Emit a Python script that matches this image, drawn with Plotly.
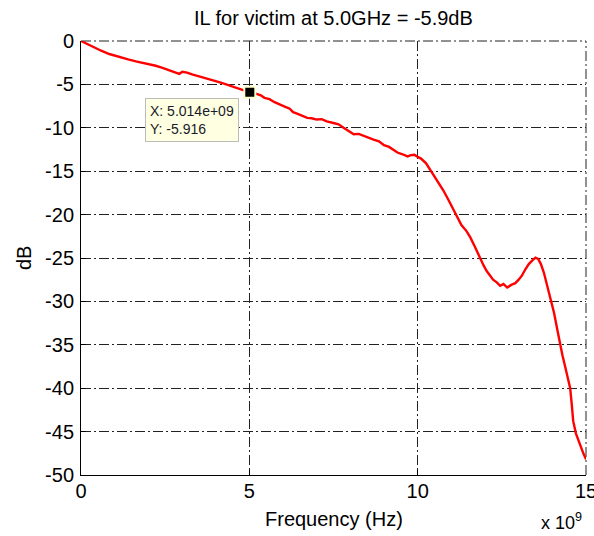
import plotly.graph_objects as go

# Frequency in GHz (axis shows x 10^9 Hz) and insertion loss in dB
freq_ghz = [0.00, 0.20, 0.40, 0.60, 0.84, 1.00, 1.20, 1.40, 1.63, 1.80, 2.00, 2.22, 2.40, 2.60,
            2.82, 2.92, 3.01, 3.15, 3.30, 3.55, 3.80, 4.00, 4.20, 4.45, 4.69, 4.85, 5.014, 5.15,
            5.34, 5.45, 5.60, 5.75, 5.93, 6.05, 6.20, 6.30, 6.40, 6.55, 6.72, 6.85, 7.00, 7.15,
            7.30, 7.50, 7.65, 7.80, 7.95, 8.10, 8.25, 8.40, 8.55, 8.69, 8.85, 9.00, 9.15, 9.28,
            9.40, 9.55, 9.70, 9.80, 9.90, 10.00, 10.10, 10.25, 10.38, 10.50, 10.62, 10.76, 10.90,
            11.05, 11.18, 11.30, 11.45, 11.56, 11.70, 11.86, 11.95, 12.05, 12.15, 12.24, 12.35,
            12.45, 12.55, 12.66, 12.78, 12.90, 13.00, 13.10, 13.20, 13.30, 13.40, 13.50, 13.58,
            13.66, 13.75, 13.85, 13.95, 14.05, 14.15, 14.23, 14.30, 14.38, 14.46, 14.53, 14.58,
            14.62, 14.70, 14.77, 14.85, 14.92, 15.00]
il_db = [0.00, -0.40, -0.78, -1.12, -1.50, -1.70, -1.95, -2.12, -2.35, -2.48, -2.62, -2.85, -3.08,
         -3.35, -3.70, -3.78, -3.55, -3.65, -3.85, -4.10, -4.40, -4.62, -4.85, -5.18, -5.50, -5.70,
         -5.916, -6.00, -6.25, -6.55, -6.70, -7.05, -7.30, -7.55, -7.80, -8.20, -8.35, -8.60,
         -8.85, -8.90, -9.05, -9.00, -9.25, -9.45, -9.60, -10.00, -10.35, -10.75, -10.70, -10.95,
         -11.20, -11.35, -11.55, -12.00, -12.20, -12.50, -12.85, -13.05, -13.30, -13.15, -13.10,
         -13.35, -13.55, -14.10, -14.90, -15.60, -16.30, -17.20, -18.20, -19.30, -20.30, -21.20,
         -21.90, -22.60, -23.70, -25.10, -25.80, -26.50, -27.10, -27.50, -27.80, -28.20, -28.00,
         -28.40, -28.10, -27.90, -27.50, -27.00, -26.30, -25.70, -25.30, -24.95, -25.10, -25.70,
         -26.70, -28.20, -29.50, -31.30, -33.30, -35.00, -36.20, -37.50, -38.70, -40.00, -42.00,
         -43.80, -45.20, -46.00, -46.80, -47.50, -48.20]

x_ticks = [0, 5, 10, 15]
x_tick_labels = ["0", "5", "10", "15"]
y_ticks = [0, -5, -10, -15, -20, -25, -30, -35, -40, -45, -50]
y_tick_labels = ["0", "-5", "-10", "-15", "-20", "-25", "-30", "-35", "-40", "-45", "-50"]

tip_x = [5.014]
tip_y = [-5.916]
tip_text = "X: 5.014e+09<br>Y: -5.916"
title_text = "IL for victim at 5.0GHz = -5.9dB"

FONT = "Liberation Sans, Arial, sans-serif"
GRID_DASH = "10px,3px,2px,3px"
GRID_COLOR = "#222222"

fig = go.Figure()
fig.add_trace(go.Scatter(x=freq_ghz, y=il_db, mode="lines",
                         line=dict(color="#FF0000", width=2.4), showlegend=False,
                         hoverinfo="skip"))
fig.add_trace(go.Scatter(x=tip_x, y=tip_y, mode="markers",
                         marker=dict(symbol="square", size=11, color="black",
                                     line=dict(color="#FFFFD0", width=2)),
                         showlegend=False, hoverinfo="skip"))

fig.update_layout(
    width=594, height=536,
    margin=dict(l=81, r=8, t=41, b=61, autoexpand=False),
    paper_bgcolor="white", plot_bgcolor="white",
    font=dict(family=FONT, size=20, color="black"),
)
fig.update_xaxes(range=[0, 15], tickvals=x_ticks, ticktext=x_tick_labels,
                 showline=True, linecolor="black", linewidth=1, mirror=False,
                 ticks="inside", ticklen=5, tickcolor="black",
                 showgrid=True, gridcolor=GRID_COLOR, gridwidth=1, griddash=GRID_DASH,
                 zeroline=False, tickfont=dict(size=20, color="black"), automargin=False,
                 ticklabelstandoff=-2, ticklabeloverflow="allow")
fig.update_yaxes(range=[-50, 0], tickvals=y_ticks, ticktext=y_tick_labels,
                 showline=True, linecolor="black", linewidth=1, mirror=False,
                 ticks="inside", ticklen=5, tickcolor="black",
                 showgrid=True, gridcolor=GRID_COLOR, gridwidth=1, griddash=GRID_DASH,
                 zeroline=False, tickfont=dict(size=20, color="black"), automargin=False,
                 ticklabelstandoff=2, ticklabeloverflow="allow")

# Grid lines at the top (y = 0) and right (x = 15) edges of the axes box
fig.add_shape(type="line", xref="paper", yref="paper", x0=0, x1=1, y0=1, y1=1,
              line=dict(color=GRID_COLOR, width=1, dash=GRID_DASH), layer="below")
fig.add_shape(type="line", xref="paper", yref="paper", x0=1, x1=1, y0=0, y1=1,
              line=dict(color=GRID_COLOR, width=1, dash=GRID_DASH), layer="below")

# Title
fig.add_annotation(text=title_text, xref="paper", yref="paper", x=0.5, y=1, yshift=23,
                   xanchor="center", yanchor="middle", showarrow=False,
                   font=dict(family=FONT, size=20, color="black"))
# Axis titles
fig.add_annotation(text="Frequency (Hz)", xref="paper", yref="paper", x=0.5, y=0, yshift=-44,
                   xanchor="center", yanchor="middle", showarrow=False,
                   font=dict(family=FONT, size=20, color="black"))
fig.add_annotation(text="dB", xref="paper", yref="paper", x=0, xshift=-57, y=0.5,
                   xanchor="center", yanchor="middle", textangle=-90, showarrow=False,
                   font=dict(family=FONT, size=20, color="black"))
fig.add_annotation(text="x 10<sup>9</sup>", xref="paper", yref="paper", x=1, xshift=-2, y=0,
                   yshift=-60, xanchor="right", yanchor="bottom", showarrow=False,
                   font=dict(family=FONT, size=18, color="black"))
# Data tip
fig.add_annotation(text=tip_text, x=tip_x[0], y=tip_y[0], xref="x", yref="y",
                   xanchor="right", yanchor="top", xshift=-11, yshift=-6,
                   showarrow=False, align="left", bgcolor="#FFFFE1",
                   bordercolor="#BBBBBB", borderwidth=1, borderpad=4,
                   font=dict(family=FONT, size=14, color="#1a1a2a"))

fig.write_html("out.html")
